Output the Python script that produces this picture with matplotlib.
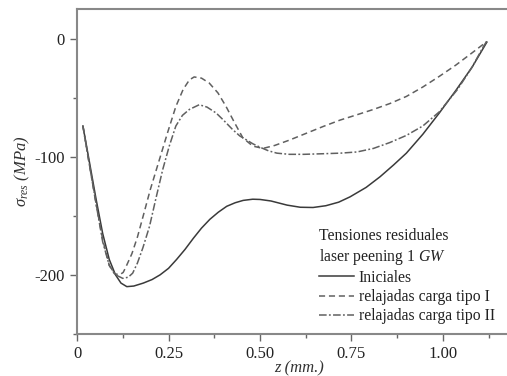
import numpy as np
import matplotlib
matplotlib.use('Agg')
import matplotlib.pyplot as plt
from matplotlib.ticker import MultipleLocator, FixedLocator

plt.rcParams['font.family'] = 'Liberation Serif'
plt.rcParams['mathtext.fontset'] = 'custom'
plt.rcParams['mathtext.rm'] = 'Liberation Serif'
plt.rcParams['mathtext.it'] = 'Liberation Serif:italic'
plt.rcParams['axes.unicode_minus'] = False

# Iniciales (solid)
z_ini = [0.016, 0.03, 0.052, 0.07, 0.088, 0.105, 0.12, 0.136, 0.155, 0.181, 0.205, 0.227, 0.25,
         0.272, 0.295, 0.318, 0.34, 0.363, 0.386, 0.409, 0.432, 0.454, 0.48, 0.5, 0.53, 0.574,
         0.61, 0.645, 0.68, 0.715, 0.746, 0.79, 0.828, 0.865, 0.90, 0.945, 0.99, 1.035, 1.08, 1.12]
s_ini = [-74, -98, -136, -165, -187, -200, -207, -210, -209.5, -207, -204, -200, -194.5,
         -187, -178.5, -169, -160.5, -153, -147, -142, -139, -137, -136, -136.2, -137.5, -141,
         -142.8, -143, -141.5, -138.5, -134, -126, -117, -107, -97, -81, -63, -44, -24, -3]

# relajadas carga tipo I (dashed)
z_t1 = [0.016, 0.03, 0.052, 0.07, 0.088, 0.102, 0.116, 0.126, 0.134, 0.15, 0.165, 0.18, 0.2,
        0.225, 0.248, 0.27, 0.29, 0.307, 0.32, 0.34, 0.361, 0.385, 0.407, 0.43, 0.453, 0.48,
        0.508, 0.54, 0.58, 0.628, 0.672, 0.719, 0.765, 0.81, 0.855, 0.90, 0.945, 0.99, 1.035,
        1.08, 1.12]
s_t1 = [-74, -100, -140, -170, -192, -199, -200, -198, -193, -182, -168, -151, -128,
        -102.5, -79, -57.5, -43, -35, -32.5, -33.5, -37.6, -46, -57.4, -71, -84, -91,
        -93, -90.5, -86, -80, -74.5, -69, -64.5, -60, -55, -49, -41, -32, -22.5,
        -12, -2.5]

# relajadas carga tipo II (dash-dot)
z_t2 = [0.016, 0.03, 0.052, 0.07, 0.088, 0.105, 0.125, 0.14, 0.152, 0.165, 0.18, 0.198, 0.215,
        0.234, 0.252, 0.27, 0.288, 0.307, 0.334, 0.355, 0.38, 0.40, 0.425, 0.445, 0.462, 0.48,
        0.50, 0.523, 0.546, 0.58, 0.62, 0.672, 0.72, 0.765, 0.81, 0.855, 0.90, 0.945, 0.99,
        1.04, 1.08, 1.11, 1.12]
s_t2 = [-74, -100, -140, -172, -192, -200, -203, -202, -198.6, -190, -177, -159, -136,
        -111, -91, -74, -65, -60, -56, -58, -63, -69, -77, -82.5, -85.6, -89,
        -92, -95, -97, -98, -98, -97.5, -97, -96, -93, -88, -82, -74, -62,
        -43, -24, -7, -2]

fig = plt.figure(figsize=(5.07, 3.76), dpi=100)
ax = fig.add_axes([0.152, 0.112, 0.848, 0.864])

ax.plot(z_ini, s_ini, '-', color='#3a3a3a', lw=1.1, label='Iniciales')
ax.plot(z_t1, s_t1, '--', color='#606060', lw=1.1, dashes=(4, 2.5), label='relajadas carga tipo I')
ax.plot(z_t2, s_t2, '-.', color='#606060', lw=1.1, dashes=(5, 1.5, 1.2, 1.5),
        label='relajadas carga tipo II')

ax.set_xlim(0, 1.175)
ax.set_ylim(-250, 25)

ax.xaxis.set_major_locator(FixedLocator([0, 0.25, 0.5, 0.75, 1.0]))
ax.xaxis.set_minor_locator(MultipleLocator(0.125))
ax.set_xticklabels(['0', '0.25', '0.50', '0.75', '1.00'])
ax.yaxis.set_major_locator(FixedLocator([0, -100, -200]))
ax.yaxis.set_minor_locator(MultipleLocator(50))

for side in ['left', 'bottom', 'top']:
    ax.spines[side].set_color('#888888')
    ax.spines[side].set_linewidth(1.5)
ax.spines['right'].set_visible(False)

ax.tick_params(which='both', direction='out', color='#666666', labelsize=12, labelcolor='#222222')
ax.tick_params(which='major', length=5, width=1.0, pad=4)
ax.tick_params(which='minor', length=3, width=1.0)
ax.tick_params(axis='x', top=False)

fig.text(299 / 507, 1 - 368 / 376, 'z (mm.)', style='italic', fontsize=12, color='#333333',
         ha='center', va='center')
fig.text(22 / 507, 1 - 171 / 376, r'$\sigma_{res}$ (MPa)', style='italic', fontsize=12,
         color='#333333', rotation=90, ha='center', va='center')

leg = ax.legend(loc='lower right', bbox_to_anchor=(0.972, 0.03), frameon=False, fontsize=11.3,
                title='Tensiones residuales\n' + r'laser peening 1 $\mathit{GW}$',
                title_fontsize=11.3, alignment='left', handlelength=2.25, handletextpad=0.32,
                labelspacing=0.2, borderaxespad=0, borderpad=0)
for t in leg.get_texts():
    t.set_color('#222222')
leg.get_title().set_color('#222222')

fig.savefig('out.png', dpi=100)
